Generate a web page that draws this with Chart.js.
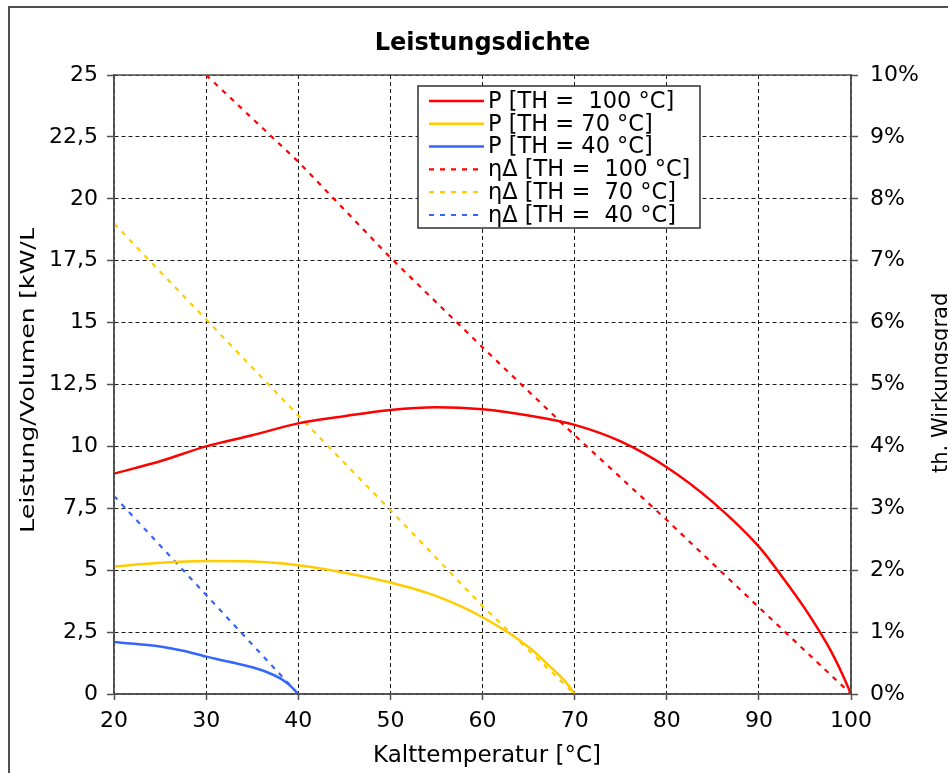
<!DOCTYPE html>
<html lang="de">
<head>
<meta charset="utf-8">
<title>Leistungsdichte</title>
<script src="https://cdn.jsdelivr.net/npm/chart.js@4.4.1/dist/chart.umd.min.js"></script>
<style>
  html, body { margin: 0; padding: 0; background: #fff; }
  canvas { display: block; }
</style>
</head>
<body>
<canvas id="chart" width="948" height="773"></canvas>
<script>
// Leistung/Volumen [kW/L] über Kalttemperatur [°C]
const tempP100 = [20, 25, 30, 35, 40, 45, 50, 55, 60, 65, 70, 75, 80, 85, 90, 92.5, 95, 97.5, 99, 100]
const powerP100 = [8.9, 9.4, 10.0, 10.45, 10.93, 11.22, 11.47, 11.58, 11.5, 11.25, 10.87, 10.2, 9.16, 7.75, 5.95, 4.75, 3.45, 1.95, 0.85, 0]

const tempP70 = [20, 25, 30, 35, 40, 45, 50, 55, 60, 65, 67.5, 69, 70]
const powerP70 = [5.15, 5.3, 5.37, 5.35, 5.2, 4.9, 4.5, 3.95, 3.1, 1.9, 1.05, 0.5, 0]

const tempP40 = [20, 22.5, 25, 27.5, 30, 32.5, 35, 36.5, 38, 39, 40]
const powerP40 = [2.1, 2.02, 1.92, 1.75, 1.51, 1.3, 1.08, 0.9, 0.64, 0.38, 0]

// thermischer Wirkungsgrad in %
const tempEta100 = [30, 40, 50, 60, 70, 80, 90, 100]
const eta100 = [10.0, 8.6, 7.05, 5.6, 4.18, 2.81, 1.4, 0]

const tempEta70 = [20, 30, 40, 50, 60, 70]
const eta70 = [7.6, 6.05, 4.5, 2.97, 1.42, 0]

const tempEta40 = [20, 30, 40]
const eta40 = [3.2, 1.6, 0]

// Beschriftungen
const seriesLabels = [
  'P [TH =  100 °C]',
  'P [TH = 70 °C]',
  'P [TH = 40 °C]',
  'ηΔ [TH =  100 °C]',
  'ηΔ [TH =  70 °C]',
  'ηΔ [TH =  40 °C]',
]
const chartTitle = 'Leistungsdichte'
const xTitle = 'Kalttemperatur [°C]'
const yTitle = 'Leistung/Volumen [kW/L]'
const y1Title = 'th. Wirkungsgrad'

// Farben
const RED = '#ff0000'
const YELLOW = '#ffcc00'
const BLUE = '#3366ff'
const AXIS = '#505050'
const FONT = 'DejaVu Sans'

const toPoints = (xs, ys) => xs.map((x, i) => ({ x, y: ys[i] }))

const powerLine = (label, color, xs, ys) => ({
  label,
  data: toPoints(xs, ys),
  borderColor: color,
  backgroundColor: color,
  borderWidth: 2.5,
  pointRadius: 0,
  cubicInterpolationMode: 'monotone',
  yAxisID: 'y',
})

const etaLine = (label, color, xs, ys) => ({
  label,
  data: toPoints(xs, ys),
  borderColor: color,
  backgroundColor: color,
  borderWidth: 2.2,
  borderDash: [5, 6],
  pointRadius: 0,
  yAxisID: 'y1',
})

// Rahmen, Titel, Achsentitel und Legende
const decorations = {
  id: 'decorations',
  beforeDraw(chart) {
    const { ctx, width, height } = chart
    ctx.save()
    ctx.fillStyle = '#fff'
    ctx.fillRect(0, 0, width, height)
    ctx.strokeStyle = AXIS
    ctx.lineWidth = 2
    ctx.beginPath()
    ctx.moveTo(9, height)
    ctx.lineTo(9, 7)
    ctx.lineTo(width, 7)
    ctx.stroke()
    ctx.restore()
  },
  afterDatasetsDraw(chart) {
    const { ctx, chartArea: area } = chart
    ctx.save()

    // Rahmen der Zeichenfläche
    ctx.strokeStyle = AXIS
    ctx.lineWidth = 1.5
    ctx.strokeRect(area.left, area.top, area.right - area.left, area.bottom - area.top)

    // Titel
    ctx.fillStyle = '#000'
    ctx.font = `bold 24px "${FONT}"`
    ctx.textAlign = 'center'
    ctx.textBaseline = 'middle'
    ctx.fillText(chartTitle, (area.left + area.right) / 2, 44)

    // x-Achsentitel
    ctx.font = `23px "${FONT}"`
    ctx.fillText(xTitle, 487, 756)

    // linker Achsentitel, oben abgeschnitten
    ctx.save()
    ctx.beginPath()
    ctx.rect(0, 228, 110, 600)
    ctx.clip()
    ctx.translate(20, 533)
    ctx.rotate(-Math.PI / 2)
    ctx.scale(1.33, 1)
    ctx.font = `19px "${FONT}"`
    ctx.textAlign = 'left'
    ctx.textBaseline = 'top'
    ctx.fillText(yTitle, 0, 0)
    ctx.restore()

    // rechter Achsentitel
    ctx.save()
    ctx.translate(931, 473)
    ctx.rotate(-Math.PI / 2)
    ctx.font = `21px "${FONT}"`
    ctx.textAlign = 'left'
    ctx.textBaseline = 'top'
    ctx.fillText(y1Title, 0, 0)
    ctx.restore()

    // Legende
    const box = { x: 418, y: 86, w: 282, h: 142 }
    ctx.fillStyle = '#fff'
    ctx.fillRect(box.x, box.y, box.w, box.h)
    ctx.strokeStyle = '#303030'
    ctx.lineWidth = 1.5
    ctx.strokeRect(box.x, box.y, box.w, box.h)
    ctx.font = `22.5px "${FONT}"`
    ctx.textAlign = 'left'
    ctx.textBaseline = 'middle'
    chart.data.datasets.forEach((ds, i) => {
      const rowY = 101 + i * 22.8
      ctx.strokeStyle = ds.borderColor
      ctx.lineWidth = ds.borderWidth
      ctx.setLineDash(ds.borderDash || [])
      ctx.beginPath()
      ctx.moveTo(429, rowY)
      ctx.lineTo(484, rowY)
      ctx.stroke()
      ctx.setLineDash([])
      ctx.fillStyle = '#000'
      ctx.fillText(ds.label, 488, rowY + 1)
    })

    ctx.restore()
  },
}

const tickFont = { family: FONT, size: 22 }
const gridStyle = { color: '#1a1a1a', lineWidth: 1, tickLength: 7, tickColor: AXIS, tickWidth: 1.5 }
const borderStyle = { dash: [4, 3], color: AXIS, width: 1.5 }

new Chart(document.getElementById('chart'), {
  type: 'line',
  data: {
    datasets: [
      powerLine(seriesLabels[0], RED, tempP100, powerP100),
      powerLine(seriesLabels[1], YELLOW, tempP70, powerP70),
      powerLine(seriesLabels[2], BLUE, tempP40, powerP40),
      etaLine(seriesLabels[3], RED, tempEta100, eta100),
      etaLine(seriesLabels[4], YELLOW, tempEta70, eta70),
      etaLine(seriesLabels[5], BLUE, tempEta40, eta40),
    ],
  },
  options: {
    responsive: false,
    animation: false,
    layout: { padding: { top: 75, left: 0, right: 0, bottom: 0 } },
    plugins: {
      legend: { display: false },
      title: { display: false },
      tooltip: { enabled: false },
    },
    scales: {
      x: {
        type: 'linear',
        min: 20,
        max: 100,
        ticks: { stepSize: 10, font: tickFont, color: '#000', padding: 8, maxRotation: 0 },
        grid: { ...gridStyle, tickLength: 6 },
        border: borderStyle,
        afterFit: (scale) => { scale.height = 79 },
      },
      y: {
        position: 'left',
        min: 0,
        max: 25,
        ticks: { stepSize: 2.5, font: tickFont, color: '#000', padding: 9, callback: (v) => String(v).replace('.', ',') },
        grid: gridStyle,
        border: borderStyle,
        afterFit: (scale) => { scale.width = 114 },
      },
      y1: {
        position: 'right',
        min: 0,
        max: 10,
        ticks: { stepSize: 1, font: tickFont, color: '#000', padding: 12, callback: (v) => v + '%' },
        grid: { ...gridStyle, drawOnChartArea: false },
        border: borderStyle,
        afterFit: (scale) => { scale.width = 97 },
      },
    },
  },
  plugins: [decorations],
})
</script>
</body>
</html>
